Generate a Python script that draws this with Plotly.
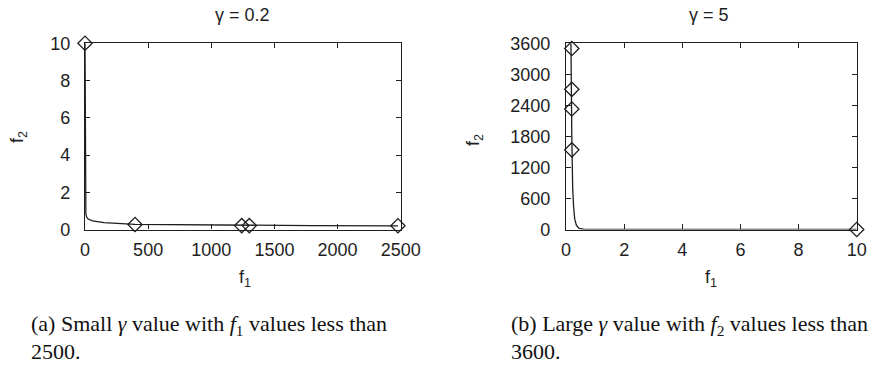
import plotly.graph_objects as go

# Pareto front traces for two gamma settings
left_curve_f1 = [0, 2, 4, 7, 12, 25, 60, 150, 396, 700, 1000, 1241, 1301, 1800, 2478]
left_curve_f2 = [10, 3.0, 1.4, 0.85, 0.68, 0.56, 0.46, 0.37, 0.27, 0.25, 0.23, 0.22, 0.21, 0.21, 0.2]
left_pts_f1 = [0, 396, 1241, 1301, 2478]
left_pts_f2 = [10, 0.27, 0.21, 0.21, 0.2]

right_curve_f1 = [0.17, 0.17, 0.18, 0.19, 0.2, 0.21, 0.23, 0.26, 0.3, 0.36, 0.45, 0.6, 1.0, 10]
right_curve_f2 = [3600, 3500, 3000, 2400, 1800, 1200, 800, 450, 200, 80, 20, 5, 1, 0]
right_pts_f1 = [0.2, 0.2, 0.2, 0.2, 10]
right_pts_f2 = [3500, 2710, 2330, 1540, 0]

left_xticks = [0, 500, 1000, 1500, 2000, 2500]
left_yticks = [0, 2, 4, 6, 8, 10]
right_xticks = [0, 2, 4, 6, 8, 10]
right_yticks = [0, 600, 1200, 1800, 2400, 3000, 3600]

INK = "#1e1e1e"
W, H = 874, 379

fig = go.Figure()

def add_panel(cx, cy, px, py, xa, ya):
    fig.add_trace(go.Scatter(x=cx, y=cy, mode="lines", line=dict(color=INK, width=1.3),
                             xaxis=xa, yaxis=ya, showlegend=False, hoverinfo="skip"))
    fig.add_trace(go.Scatter(x=px, y=py, mode="markers", cliponaxis=False,
                             marker=dict(symbol="diamond-open", size=11, color=INK,
                                         line=dict(width=1.3, color=INK)),
                             xaxis=xa, yaxis=ya, showlegend=False))

add_panel(left_curve_f1, left_curve_f2, left_pts_f1, left_pts_f2, "x", "y")
add_panel(right_curve_f1, right_curve_f2, right_pts_f1, right_pts_f2, "x2", "y2")

tick_font = dict(family="Liberation Sans, Arial, sans-serif", size=18, color=INK)
axis_common = dict(showline=True, linecolor=INK, linewidth=1.3, mirror="allticks",
                   ticks="inside", ticklen=5, tickcolor=INK, tickwidth=1,
                   showgrid=False, zeroline=False, tickfont=tick_font, automargin=False)

ydom = [(H - 229.5) / H, (H - 43.3) / H]
fig.update_layout(
    width=W, height=H, margin=dict(l=0, r=0, t=0, b=0, pad=0),
    paper_bgcolor="white", plot_bgcolor="white",
    xaxis=dict(domain=[85 / W, 400.7 / W], range=[0, 2500], tickvals=left_xticks,
               anchor="y", ticklabelstandoff=4, **axis_common),
    yaxis=dict(domain=ydom, range=[0, 10], tickvals=left_yticks, anchor="x",
               ticklabelstandoff=10, **axis_common),
    xaxis2=dict(domain=[566 / W, 856.7 / W], range=[0, 10], tickvals=right_xticks,
                anchor="y2", ticklabelstandoff=4, **axis_common),
    yaxis2=dict(domain=ydom, range=[0, 3600], tickvals=right_yticks, anchor="x2",
                ticklabelstandoff=11, **axis_common),
)

lab_font = dict(family="Liberation Sans, Arial, sans-serif", size=18, color=INK)
cap_font = dict(family="Liberation Serif, Times New Roman, serif", size=22, color="#111")

annots = [
    dict(text="γ = 0.2", x=242 / W, y=1 - 15 / H, font=lab_font),
    dict(text="γ = 5", x=709 / W, y=1 - 15 / H, font=lab_font),
    dict(text="f<sub>1</sub>", x=245 / W, y=1 - 278 / H, font=lab_font),
    dict(text="f<sub>1</sub>", x=711 / W, y=1 - 278 / H, font=lab_font),
    dict(text="f<sub>2</sub>", x=18 / W, y=1 - 137 / H, font=lab_font, textangle=-90),
    dict(text="f<sub>2</sub>", x=474 / W, y=1 - 140 / H, font=lab_font, textangle=-90),
]
for a in annots:
    fig.add_annotation(xref="paper", yref="paper", showarrow=False,
                       xanchor="center", yanchor="middle", **a)

captions = [
    ("(a) Small <i>γ</i> value with <i>f</i><sub>1</sub> values less than", 30, 325),
    ("2500.", 30, 351),
    ("(b) Large <i>γ</i> value with <i>f</i><sub>2</sub> values less than", 510, 325),
    ("3600.", 510, 351),
]
for text, x, y in captions:
    fig.add_annotation(text=text, xref="paper", yref="paper", x=x / W, y=1 - y / H,
                       xanchor="left", yanchor="middle", showarrow=False, font=cap_font,
                       borderpad=0)

fig.write_html("out.html")
